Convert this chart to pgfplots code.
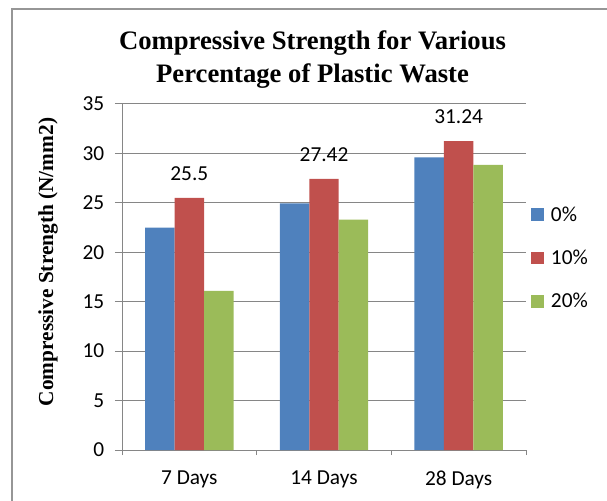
\documentclass[border=0pt]{standalone}
\usepackage{fontspec}
\setmainfont{Liberation Serif}
\newfontfamily\calibri{Carlito}
\usepackage{pgfplots}
\pgfplotsset{compat=1.18}
\definecolor{bblue}{RGB}{79,129,189}
\definecolor{bred}{RGB}{192,80,77}
\definecolor{bgreen}{RGB}{155,187,89}
\definecolor{gridgray}{RGB}{134,134,134}
\definecolor{framegray}{RGB}{150,150,150}

\begin{document}
\begin{tikzpicture}
\useasboundingbox (0,0) rectangle (455.25pt,375pt);
\draw[framegray, line width=1pt] (9pt,-2pt) -- (9pt,368.25pt) -- (458pt,368.25pt);
\node[font=\bfseries\fontsize{20}{24}\selectfont, anchor=base] at (234.4pt,337.5pt) {Compressive Strength for Various};
\node[font=\bfseries\fontsize{20}{24}\selectfont, anchor=base] at (234.4pt,312.75pt) {Percentage of Plastic Waste};
\node[rotate=90, anchor=base, font=\bfseries\fontsize{16}{19}\selectfont] at (39.75pt,178.5pt) {Compressive Strength (N/mm2)};

\begin{axis}[
    at={(91.5pt,37.5pt)}, anchor=south west,
    scale only axis, width=303pt, height=259.5pt,
    ybar=0pt, bar width=22.1pt,
    xmin=-0.5, xmax=2.5, ymin=0, ymax=35,
    xtick={0,1,2}, xticklabels={7 Days,14 Days,28 Days},
    minor xtick={-0.5,0.5,1.5,2.5},
    ytick={0,5,...,35},
    axis x line*=bottom, axis y line*=left,
    axis line style={-, gridgray, line width=0.75pt},
    tick align=outside,
    major tick length=5.25pt, minor tick length=3.75pt,
    major x tick style={draw=none},
    tick style={gridgray, line width=0.75pt},
    ymajorgrids, major grid style={gridgray, line width=0.75pt},
    tick label style={font=\calibri\fontsize{16}{19}\selectfont},
    yticklabel style={xshift=-4.5pt},
    xticklabel style={yshift=-7pt},
    /pgf/number format/assume math mode=true,
    legend image code/.code={\fill[#1] (0pt,-4.75pt) rectangle (9.5pt,4.75pt); \path (13pt,0pt);},
    legend cell align=left,
    legend style={at={(axis description cs:1.0116,0.555)}, anchor=west,
        draw=none, fill=none, inner sep=0pt, row sep=16pt,
        font=\calibri\fontsize{16}{19}\selectfont},
]
\addplot[fill=bblue, draw=none] coordinates {(0,22.5) (1,24.95) (2,29.6)};
\addplot[fill=bred, draw=none, nodes near coords,
    nodes near coords style={font=\calibri\fontsize{16}{19}\selectfont, text=black, anchor=south, inner sep=0pt, yshift=12.75pt}]
    coordinates {(0,25.5) (1,27.42) (2,31.24)};
\addplot[fill=bgreen, draw=none] coordinates {(0,16.1) (1,23.3) (2,28.85)};
\legend{0\%,10\%,20\%}
\end{axis}
\end{tikzpicture}
\end{document}
